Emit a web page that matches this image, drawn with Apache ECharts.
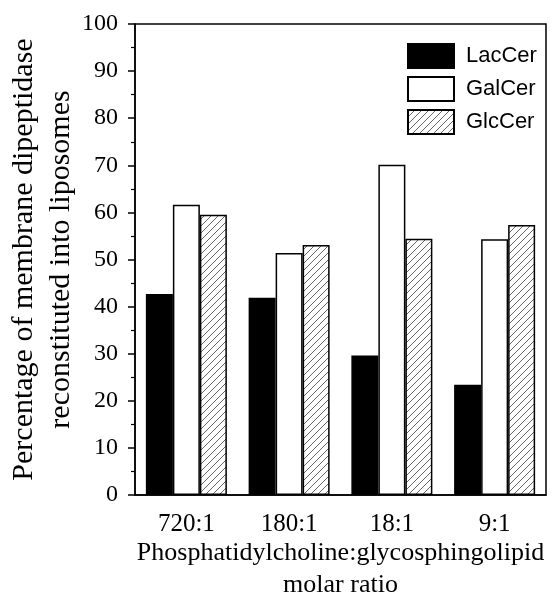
<!DOCTYPE html>
<html>
<head>
<meta charset="utf-8">
<style>
    html, body { margin: 0; padding: 0; background: #fff; }
    #chart { width: 551px; height: 599px; }
</style>
<script src="https://cdn.jsdelivr.net/npm/echarts@6/dist/echarts.min.js"></script>
</head>
<body>
<div id="chart"></div>
<script>
const categories = ['720:1', '180:1', '18:1', '9:1'];
const lacCer = [42.7, 41.9, 29.6, 23.4];
const galCer = [61.6, 51.4, 70.1, 54.3];
const glcCer = [59.5, 53.1, 54.4, 57.3];

// diagonal hatch for GlcCer
function makeHatch() {
    const size = 7;
    const c = document.createElement('canvas');
    c.width = size;
    c.height = size;
    const ctx = c.getContext('2d');
    ctx.fillStyle = '#fff';
    ctx.fillRect(0, 0, size, size);
    ctx.strokeStyle = '#555';
    ctx.lineWidth = 0.9;
    ctx.beginPath();
    ctx.moveTo(-1, size + 1);
    ctx.lineTo(size + 1, -1);
    ctx.moveTo(-1, 1);
    ctx.lineTo(1, -1);
    ctx.moveTo(size - 1, size + 1);
    ctx.lineTo(size + 1, size - 1);
    ctx.stroke();
    return c;
}

const serif = '"Liberation Serif", "DejaVu Serif", serif';
const sans = '"Liberation Sans", Arial, sans-serif';

const chart = echarts.init(document.getElementById('chart'));

chart.setOption({
    animation: false,
    grid: {
        left: 135,
        right: 5,
        top: 24,
        bottom: 104,
        containLabel: false,
        outerBoundsMode: 'none',
        show: true,
        borderColor: '#000',
        borderWidth: 1.5
    },
    legend: {
        orient: 'vertical',
        left: 407,
        top: 43,
        padding: 0,
        itemWidth: 46,
        itemHeight: 24,
        itemGap: 7,
        icon: 'rect',
        textStyle: {
            fontFamily: sans,
            fontSize: 22,
            color: '#000',
            padding: [0, 0, 0, 7]
        },
        data: ['LacCer', 'GalCer', 'GlcCer']
    },
    xAxis: {
        type: 'category',
        data: categories,
        axisLine: { lineStyle: { color: '#000', width: 1.5 } },
        axisTick: {
            alignWithLabel: true,
            length: 7,
            lineStyle: { color: '#000', width: 1.5 }
        },
        axisLabel: {
            fontFamily: serif,
            fontSize: 25,
            color: '#000',
            margin: 17
        },
        name: 'Phosphatidylcholine:glycosphingolipid\nmolar ratio',
        nameLocation: 'middle',
        nameMoveOverlap: false,
        nameGap: 42,
        nameTextStyle: {
            fontFamily: serif,
            fontSize: 26,
            color: '#000',
            lineHeight: 32
        }
    },
    yAxis: {
        type: 'value',
        min: 0,
        max: 100,
        interval: 10,
        splitLine: { show: false },
        axisLine: { show: true, lineStyle: { color: '#000', width: 1.5 } },
        axisTick: {
            show: true,
            length: 7,
            lineStyle: { color: '#000', width: 1.5 }
        },
        minorTick: {
            show: true,
            splitNumber: 2,
            length: 4,
            lineStyle: { color: '#000', width: 1.2 }
        },
        axisLabel: {
            fontFamily: serif,
            fontSize: 24,
            color: '#000',
            margin: 17
        },
        name: 'Percentage of membrane dipeptidase\nreconstituted into liposomes',
        nameLocation: 'middle',
        nameRotate: 90,
        nameMoveOverlap: false,
        nameGap: 55,
        nameTextStyle: {
            fontFamily: serif,
            fontSize: 30,
            color: '#000',
            lineHeight: 37
        }
    },
    series: [
        {
            name: 'LacCer',
            type: 'bar',
            data: lacCer,
            barWidth: 27,
            barGap: '0%',
            itemStyle: { color: '#000', borderColor: '#000', borderWidth: 1.5 }
        },
        {
            name: 'GalCer',
            type: 'bar',
            data: galCer,
            barWidth: 27,
            barGap: '0%',
            itemStyle: { color: '#fff', borderColor: '#000', borderWidth: 1.5 }
        },
        {
            name: 'GlcCer',
            type: 'bar',
            data: glcCer,
            barWidth: 27,
            barGap: '0%',
            itemStyle: {
                color: { image: makeHatch(), repeat: 'repeat' },
                borderColor: '#000',
                borderWidth: 1.5
            }
        }
    ]
});
</script>
</body>
</html>
